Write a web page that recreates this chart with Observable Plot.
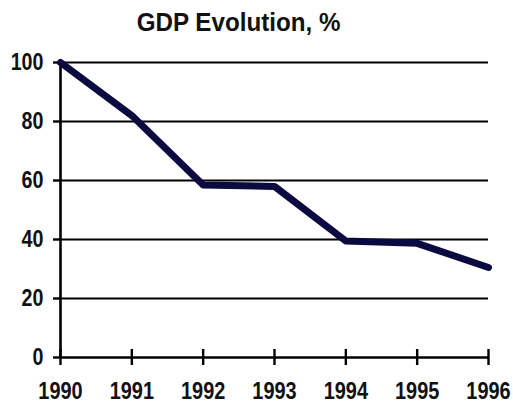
<!DOCTYPE html>
<html>
<head>
<meta charset="utf-8">
<script src="https://cdn.jsdelivr.net/npm/d3@7"></script>
<script src="https://cdn.jsdelivr.net/npm/@observablehq/plot@0.6"></script>
<style>
  html, body { margin: 0; padding: 0; background: #fff; }
  #title {
    width: 477px; height: 44px; text-align: center;
    font-family: "Liberation Sans", Arial, sans-serif; font-weight: bold;
    font-size: 26px; line-height: 26px; padding-top: 9px; box-sizing: border-box;
    color: #111;
  }
  #title span { display: inline-block; transform: scaleX(0.93); }
  svg { display: block; }
</style>
</head>
<body>
<div id="title"><span>GDP Evolution, %</span></div>
<div id="chart"></div>
<script>
const years = [1990, 1991, 1992, 1993, 1994, 1995, 1996];
const gdp = [100, 82, 58.5, 58, 39.5, 38.7, 30.5];
const yTicks = [0, 20, 40, 60, 80, 100];
const gridTicks = [20, 40, 60, 80, 100];

const data = years.map((y, i) => ({year: y, value: gdp[i]}));
const font = '"Liberation Sans", Arial, sans-serif';

const chart = Plot.plot({
  width: 513,
  height: 360,
  marginLeft: 60,
  marginRight: 25,
  marginTop: 18,
  marginBottom: 47,
  style: {fontFamily: font, fontSize: "24px", fontWeight: "bold", color: "#111", background: "#fff"},
  x: {domain: [years[0], years[years.length - 1]], type: "linear"},
  y: {domain: [0, 100]},
  marks: [
    Plot.ruleY(gridTicks, {stroke: "#000", strokeWidth: 2.2}),
    Plot.ruleY([0], {stroke: "#000", strokeWidth: 2.6}),
    Plot.ruleX([years[0]], {stroke: "#000", strokeWidth: 2.6}),
    Plot.axisY({ticks: yTicks, tickSize: 7, tickPadding: 10, strokeWidth: 2.4, stroke: "#000", label: null, tickFormat: d => String(d)}),
    Plot.axisX({ticks: years, tickSize: 0, tickPadding: 24, fontSize: 24, label: null, tickFormat: d => String(d)}),
    // x-axis ticks crossing the axis line
    Plot.ruleX(years, {x: d => d, y1: 0, y2: 0, insetTop: -8, insetBottom: -8, stroke: "#000", strokeWidth: 2.4}),
    Plot.line(data, {x: "year", y: "value", stroke: "#0a0a40", strokeWidth: 7, strokeLinejoin: "round", strokeLinecap: "round"})
  ]
});
document.getElementById("chart").appendChild(chart);

// condense tick labels horizontally to mimic the narrow bold face
function condense(el, s) {
  const t = el.getAttribute("transform");
  if (t) el.setAttribute("transform", `${t} scale(${s},1)`);
  else {
    el.setAttribute("textLength", el.getComputedTextLength() * s);
    el.setAttribute("lengthAdjust", "spacingAndGlyphs");
  }
}
d3.select(chart).selectAll("g[aria-label='y-axis tick label'] text").each(function() { condense(this, 0.82); });
d3.select(chart).selectAll("g[aria-label='x-axis tick label'] text").each(function() { condense(this, 0.83); });
</script>
</body>
</html>
